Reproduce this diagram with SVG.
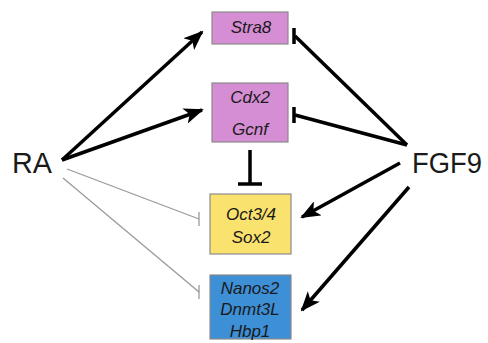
<svg xmlns="http://www.w3.org/2000/svg" width="488" height="343" viewBox="0 0 488 343">
<style>
.box{stroke:#8a8a8a;stroke-width:1.2}
.pink{fill:#D58DD3}
.yellow{fill:#FAE26E}
.blue{fill:#3D8FD6}
.gene{font-family:"Liberation Sans",Arial,sans-serif;font-style:italic;font-size:17px;fill:#1a1a1a;text-anchor:middle}
.big{font-family:"Liberation Sans",Arial,sans-serif;font-size:29px;fill:#1a1a1a}
.act{stroke:#000;stroke-width:3.5;fill:none;marker-end:url(#arrow)}
.inh{stroke:#000;stroke-width:3.5;fill:none}
.weak{stroke:#9a9a9a;stroke-width:1.3;fill:none}
</style>
<defs>
<marker id="arrow" markerUnits="userSpaceOnUse" markerWidth="20" markerHeight="16" viewBox="0 0 20 16" refX="18" refY="8" orient="auto">
<path d="M0,0 L20,8 L0,16 L5,8 Z" fill="#000"/>
</marker>
</defs>
<g id="connectors">
<line class="act" x1="62" y1="160" x2="202" y2="32"/>
<line class="act" x1="62" y1="160" x2="202" y2="110"/>
<line class="weak" x1="67" y1="169" x2="199" y2="219"/>
<line class="weak" x1="199" y1="212" x2="199" y2="226"/>
<line class="weak" x1="63" y1="178" x2="199" y2="292"/>
<line class="weak" x1="199" y1="285" x2="199" y2="299"/>
<line class="inh" x1="407" y1="145" x2="295" y2="36"/>
<line class="inh" x1="294" y1="28" x2="294" y2="44"/>
<line class="inh" x1="407" y1="145" x2="295" y2="115"/>
<line class="inh" x1="294" y1="107" x2="294" y2="123"/>
<line class="inh" x1="250" y1="150" x2="250" y2="184"/>
<line class="inh" x1="238" y1="184" x2="262" y2="184"/>
<line class="act" x1="400" y1="163" x2="302" y2="217"/>
<line class="act" x1="409" y1="187" x2="302" y2="310"/>
</g>
<g id="stra8">
<rect class="box pink" x="212" y="12" width="76" height="32"/>
<text class="gene" x="251" y="33">Stra8</text>
</g>
<g id="cdx2-gcnf">
<rect class="box pink" x="212" y="83" width="76" height="59"/>
<text class="gene" x="250" y="103">Cdx2</text>
<text class="gene" x="250" y="135">Gcnf</text>
</g>
<g id="oct-sox">
<rect class="box yellow" x="210" y="194" width="81" height="60"/>
<text class="gene" x="251" y="220">Oct3/4</text>
<text class="gene" x="251" y="243">Sox2</text>
</g>
<g id="nanos">
<rect class="box blue" x="210" y="275" width="81" height="64"/>
<text class="gene" x="250" y="294">Nanos2</text>
<text class="gene" x="250" y="315">Dnmt3L</text>
<text class="gene" x="250" y="337">Hbp1</text>
</g>
<g id="ra">
<text class="big" x="12" y="173" textLength="40" lengthAdjust="spacingAndGlyphs">RA</text>
</g>
<g id="fgf9">
<text class="big" x="412" y="173" textLength="70" lengthAdjust="spacingAndGlyphs">FGF9</text>
</g>
</svg>
